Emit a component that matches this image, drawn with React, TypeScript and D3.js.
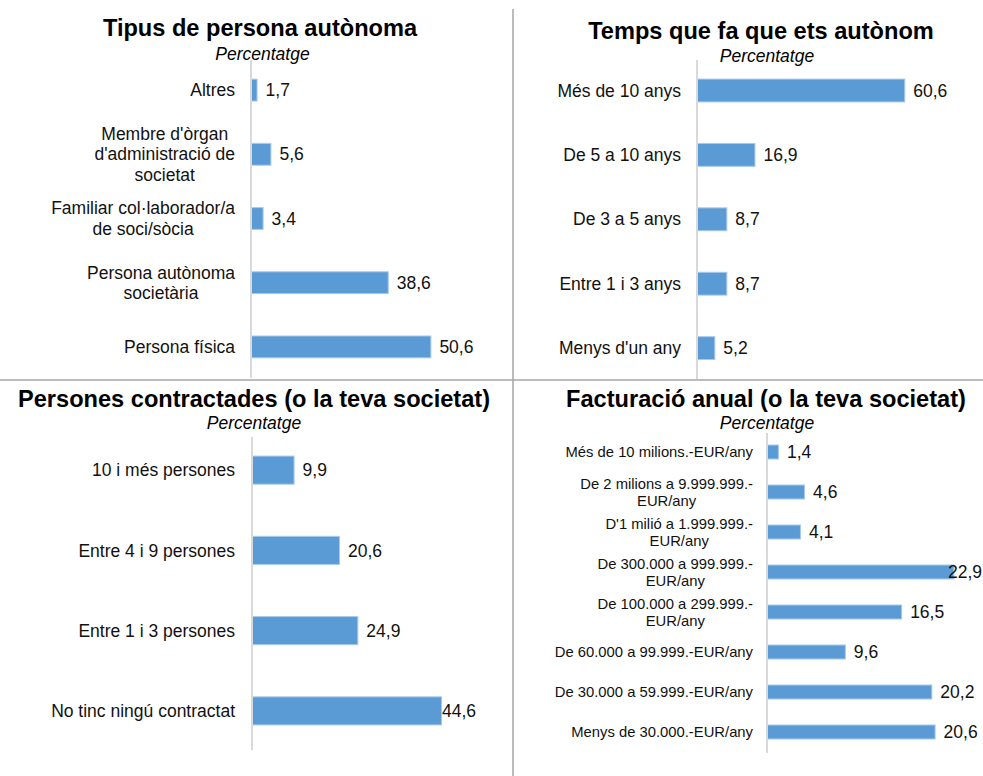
import { useEffect, useRef } from 'react';
import * as d3 from 'd3';

// Tipus de persona autònoma
const tipusCats = [
  'Altres',
  "Membre d'òrgan\nd'administració de\nsocietat",
  'Familiar col·laborador/a\nde soci/sòcia',
  'Persona autònoma\nsocietària',
  'Persona física',
];
const tipusVals = [1.7, 5.6, 3.4, 38.6, 50.6];

// Temps que fa que ets autònom
const tempsCats = ['Més de 10 anys', 'De 5 a 10 anys', 'De 3 a 5 anys', 'Entre 1 i 3 anys', "Menys d'un any"];
const tempsVals = [60.6, 16.9, 8.7, 8.7, 5.2];

// Persones contractades
const personesCats = ['10 i més persones', 'Entre 4 i 9 persones', 'Entre 1 i 3 persones', 'No tinc ningú contractat'];
const personesVals = [9.9, 20.6, 24.9, 44.6];

// Facturació anual
const facturacioCats = [
  'Més de 10 milions.-EUR/any',
  'De 2 milions a 9.999.999.-\nEUR/any',
  "D'1 milió a 1.999.999.-\nEUR/any",
  'De 300.000 a 999.999.-\nEUR/any',
  'De 100.000 a 299.999.-\nEUR/any',
  'De 60.000 a 99.999.-EUR/any',
  'De 30.000 a 59.999.-EUR/any',
  'Menys de 30.000.-EUR/any',
];
const facturacioVals = [1.4, 4.6, 4.1, 22.9, 16.5, 9.6, 20.2, 20.6];

const W = 983;
const H = 776;
const FONT = '"Liberation Sans", Arial, Helvetica, sans-serif';
const BAR = '#5b9bd5';

const panels = [
  {
    title: 'Tipus de persona autònoma', titleX: 260, titleY: 36, subX: 262.5, subY: 60,
    cats: tipusCats, vals: tipusVals, xMax: 60, xRange: [251, 464.3], yRange: [58, 379],
    pad: 0.66, axisY: [60, 378], labelX: 235, labelSize: 17.5, lineH: 20.3, maxLabelX: Infinity,
  },
  {
    title: 'Temps que fa que ets autònom', titleX: 761, titleY: 39, subX: 767, subY: 62,
    cats: tempsCats, vals: tempsVals, xMax: 70, xRange: [697, 937], yRange: [58.3, 380.3],
    pad: 0.645, axisY: [60, 379], labelX: 681, labelSize: 17.5, lineH: 20.3, maxLabelX: Infinity,
  },
  {
    title: 'Persones contractades (o la teva societat)', titleX: 254, titleY: 407, subX: 254, subY: 429,
    cats: personesCats, vals: personesVals, xMax: 50, xRange: [252, 464.5], yRange: [430, 751],
    pad: 0.65, axisY: [437, 750], labelX: 235, labelSize: 17.5, lineH: 20.3, maxLabelX: 442,
  },
  {
    title: 'Facturació anual (o la teva societat)', titleX: 766, titleY: 407, subX: 767, subY: 429,
    cats: facturacioCats, vals: facturacioVals, xMax: 25, xRange: [767, 971], yRange: [432, 752],
    pad: 0.65, axisY: [433, 753], labelX: 753, labelSize: 14.8, lineH: 17, maxLabelX: 948,
  },
];

const fmt = (v: number) => d3.format('.1f')(v).replace('.', ',');

export default function App() {
  const ref = useRef<SVGSVGElement>(null);

  useEffect(() => {
    const svg = d3.select(ref.current);
    svg.selectAll('*').remove();

    // dividers between the four charts
    svg.append('line').attr('x1', 513).attr('x2', 513).attr('y1', 9).attr('y2', H)
      .attr('stroke', '#a6a6a6').attr('stroke-width', 1.5);
    svg.append('line').attr('x1', 0).attr('x2', W).attr('y1', 380).attr('y2', 380)
      .attr('stroke', '#a6a6a6').attr('stroke-width', 1.5);

    panels.forEach(p => {
      const g = svg.append('g');
      const x = d3.scaleLinear().domain([0, p.xMax]).range(p.xRange);
      const y = d3.scaleBand<string>()
        .domain(p.cats)
        .range(p.yRange)
        .paddingInner(p.pad)
        .paddingOuter(p.pad / 2);

      g.append('text')
        .attr('x', p.titleX).attr('y', p.titleY)
        .attr('text-anchor', 'middle')
        .attr('font-family', FONT).attr('font-size', 23.6).attr('font-weight', 'bold')
        .attr('fill', '#000')
        .text(p.title);
      g.append('text')
        .attr('x', p.subX).attr('y', p.subY)
        .attr('text-anchor', 'middle')
        .attr('font-family', FONT).attr('font-size', 17.5).attr('font-style', 'italic')
        .attr('fill', '#000')
        .text('Percentatge');

      g.selectAll('rect.bar')
        .data(p.vals)
        .join('rect')
        .attr('class', 'bar')
        .attr('x', x(0))
        .attr('y', (_, i) => y(p.cats[i])!)
        .attr('width', d => x(d) - x(0))
        .attr('height', y.bandwidth())
        .attr('fill', BAR)
        .attr('stroke', '#a9c9ec')
        .attr('stroke-width', 1);

      g.append('line')
        .attr('x1', x(0)).attr('x2', x(0))
        .attr('y1', p.axisY[0]).attr('y2', p.axisY[1])
        .attr('stroke', '#d9d9d9').attr('stroke-width', 2);

      // category labels, multi-line blocks centred on their widest line
      p.cats.forEach(c => {
        const lines = c.split('\n');
        const cy = y(c)! + y.bandwidth() / 2;
        const first = cy - ((lines.length - 1) * p.lineH) / 2 + p.labelSize * 0.35;
        const texts = lines.map((ln, j) =>
          g.append('text')
            .attr('y', first + j * p.lineH)
            .attr('font-family', FONT).attr('font-size', p.labelSize)
            .attr('fill', '#111')
            .text(ln)
        );
        if (lines.length === 1) {
          texts[0].attr('x', p.labelX).attr('text-anchor', 'end');
        } else {
          const maxW = d3.max(texts, t => (t.node() as SVGTextElement).getComputedTextLength()) || 0;
          texts.forEach(t => t.attr('x', p.labelX - maxW / 2).attr('text-anchor', 'middle'));
        }
      });

      g.selectAll('text.val')
        .data(p.vals)
        .join('text')
        .attr('class', 'val')
        .attr('x', d => Math.min(x(d) + 8.5, p.maxLabelX))
        .attr('y', (_, i) => y(p.cats[i])! + y.bandwidth() / 2 + 17.5 * 0.35)
        .attr('font-family', FONT).attr('font-size', 17.5)
        .attr('fill', '#111')
        .text(d => fmt(d));
    });
  }, []);

  return (
    <svg
      ref={ref}
      width={W}
      height={H}
      style={{ position: 'absolute', left: 0, top: 0, background: '#fff' }}
    />
  );
}
